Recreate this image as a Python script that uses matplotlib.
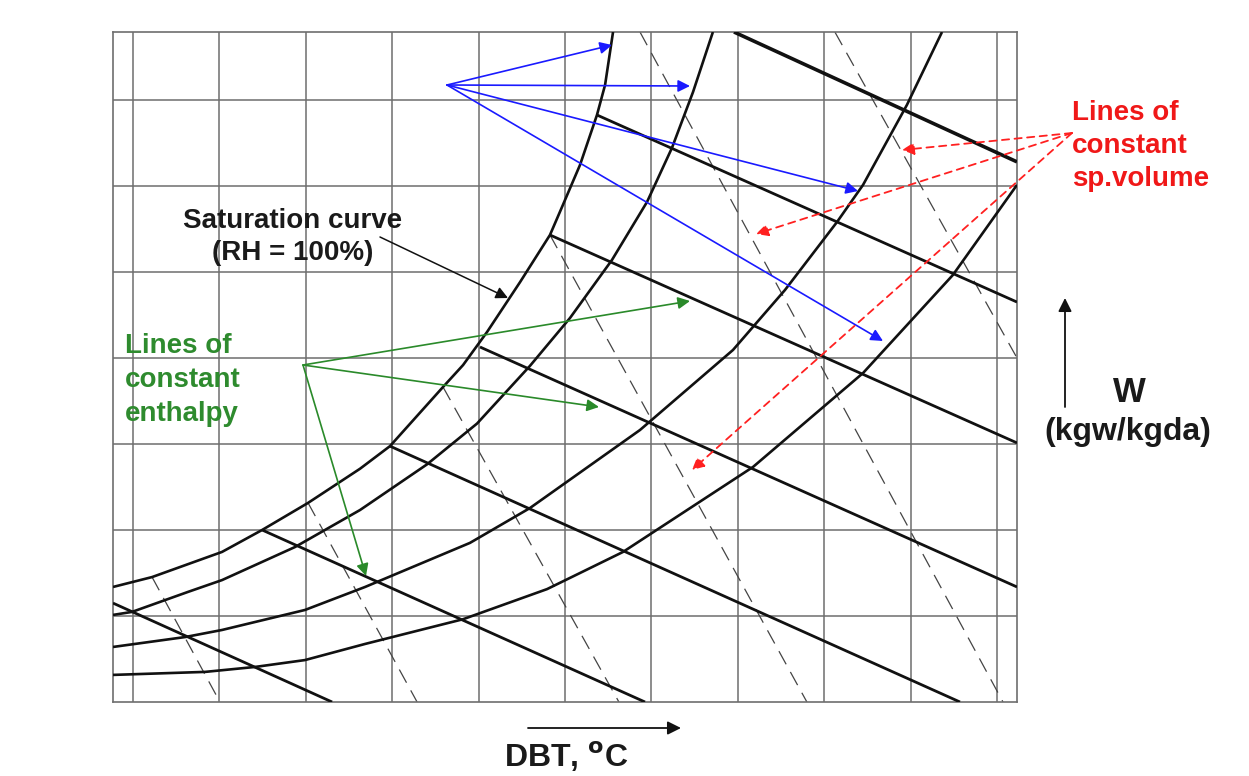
import numpy as np
import matplotlib
matplotlib.use("Agg")
import matplotlib.pyplot as plt

plt.rcParams['font.family'] = ['Liberation Sans', 'DejaVu Sans']

# grid: dry bulb temperature (deg C) and humidity ratio (g/kg)
dbt_grid = np.arange(0, 55, 5)
w_grid = np.arange(4, 32, 4)
x_lim = (-1.16, 51.16)
y_lim = (0, 31.16)

# saturation curve (RH = 100%) and lower RH curves
sat_t = [-1.16, 1.10, 5.15, 7.47, 10.13, 13.14, 14.87, 17.94, 19.10, 20.49,
         22.40, 24.13, 24.88, 25.87, 26.85, 27.32, 27.78]
sat_w = [5.35, 5.81, 6.98, 8.00, 9.26, 10.85, 11.90, 14.65, 15.67, 17.21,
         19.53, 21.72, 23.12, 24.98, 27.30, 28.70, 31.16]

rh2_t = [-1.16, -0.06, 3.18, 5.15, 9.38, 13.14, 17.01, 19.91, 22.97, 25.29,
         27.72, 29.75, 31.19, 32.41, 33.56]
rh2_w = [4.05, 4.19, 5.12, 5.67, 7.21, 8.93, 11.05, 12.95, 15.63, 17.86,
         20.56, 23.26, 25.77, 28.37, 31.16]

rh3_t = [-1.16, 3.01, 5.15, 9.95, 13.43, 19.50, 22.97, 29.34, 34.72, 37.73,
         40.74, 42.25, 44.79, 46.82]
rh3_w = [2.56, 3.02, 3.35, 4.28, 5.35, 7.40, 9.02, 12.65, 16.37, 19.16,
         22.32, 24.05, 27.77, 31.16]

rh4_t = [-1.16, 4.17, 7.06, 9.95, 13.43, 19.10, 23.96, 25.87, 28.36, 35.88,
         42.25, 47.45, 51.16]
rh4_w = [1.26, 1.40, 1.63, 1.95, 2.70, 3.85, 5.25, 6.00, 6.98, 10.93,
         15.30, 19.86, 24.05]

rh_curves = [(sat_t, sat_w), (rh2_t, rh2_w), (rh3_t, rh3_w), (rh4_t, rh4_w)]

# constant enthalpy lines: start / end points
h_t0 = [34.78, 26.85, 24.13, 20.08, 14.87, 7.47, -1.16]
h_w0 = [31.16, 27.30, 21.72, 16.51, 11.90, 8.00, 4.60]
h_t1 = [51.16, 51.16, 51.16, 51.16, 47.86, 29.63, 11.52]
h_w1 = [25.12, 18.60, 12.05, 5.35, 0.0, 0.0, 0.0]
h_lw = [2.6, 2.0, 2.0, 2.0, 2.0, 2.0, 2.0]

# constant specific volume lines: start / end points
v_t0 = [1.10, 10.13, 17.94, 24.13, 29.34, 40.62]
v_w0 = [5.81, 9.26, 14.65, 21.72, 31.16, 31.16]
v_t1 = [5.03, 16.44, 28.12, 39.00, 50.35, 51.16]
v_w1 = [0.0, 0.0, 0.0, 0.0, 0.0, 16.00]

fig = plt.figure(figsize=(12.49, 7.76), dpi=100)
ax = fig.add_axes([113 / 1249, 1 - 702 / 776, 904 / 1249, 670 / 776])

for t in dbt_grid:
    ax.axvline(t, color='#6e6e6e', lw=1.1, zorder=1)
for w in w_grid:
    ax.axhline(w, color='#6e6e6e', lw=1.1, zorder=1)

for t0, w0, t1, w1 in zip(v_t0, v_w0, v_t1, v_w1):
    ax.plot([t0, t1], [w0, w1], color='#444444', lw=0.9, dashes=(12, 7), zorder=2)

for t, w in rh_curves:
    ax.plot(t, w, color='#111111', lw=1.9, zorder=3, solid_capstyle='butt',
            solid_joinstyle='round')

for t0, w0, t1, w1, lw in zip(h_t0, h_w0, h_t1, h_w1, h_lw):
    ax.plot([t0, t1], [w0, w1], color='#111111', lw=lw, zorder=3, solid_capstyle='butt')

ax.set_xlim(*x_lim)
ax.set_ylim(*y_lim)
ax.set_xticks([])
ax.set_yticks([])
for s in ax.spines.values():
    s.set_color('#6e6e6e')
    s.set_linewidth(1.2)

H = 776


def arrow(x0, y0, x1, y1, color, ls='-', lw=1.2, ms=18):
    ax.annotate('', xy=(x1, H - y1), xycoords='figure pixels',
                xytext=(x0, H - y0), textcoords='figure pixels',
                arrowprops=dict(arrowstyle='-|>', color=color, lw=lw, ls=ls,
                                mutation_scale=ms, shrinkA=0, shrinkB=0),
                annotation_clip=False, zorder=5)


# blue arrows
for x1, y1 in [(612, 45), (690, 86), (858, 191), (883, 341)]:
    arrow(447, 85, x1, y1, '#1a1aff')

# green arrows
for x1, y1 in [(690, 301), (599, 407), (366, 576)]:
    arrow(303, 365, x1, y1, '#2a8a2a')

# red dashed arrows
for x1, y1 in [(902, 150), (756, 234), (692, 470)]:
    arrow(1072, 133, x1, y1, '#ff2020', ls=(0, (4, 3)), lw=1.3)

# saturation label arrow
arrow(380, 237, 508, 298, '#111111', lw=1.1)

# axis direction arrows
arrow(528, 728, 681, 728, '#111111', lw=1.3, ms=20)
arrow(1065, 407, 1065, 298, '#111111', lw=1.3, ms=20)

fig.text(293 / 1249, 1 - 237 / H, 'Saturation curve\n(RH = 100%)', ha='center', va='center',
         fontsize=20, fontweight='bold', color='#1a1a1a', linespacing=1.35, multialignment='center')
fig.text(125 / 1249, 1 - 380 / H, 'Lines of\nconstant\nenthalpy', ha='left', va='center',
         fontsize=20, fontweight='bold', color='#2e8b2e', linespacing=1.38)
fig.text(1072 / 1249, 1 - 146 / H, 'Lines of\nconstant\nsp.volume', ha='left', va='center',
         fontsize=20, fontweight='bold', color='#f01818', linespacing=1.33)
fig.text(1129 / 1249, 1 - 392 / H, 'W', ha='center', va='center',
         fontsize=25, fontweight='bold', color='#1a1a1a')
fig.text(1128 / 1249, 1 - 432 / H, '(kgw/kgda)', ha='center', va='center',
         fontsize=23, fontweight='bold', color='#1a1a1a')
fig.text(566 / 1249, 1 - 757 / H, r'DBT, $^{\mathbf{o}}$C', ha='center', va='center',
         fontsize=23, fontweight='bold', color='#1a1a1a')

fig.savefig('out.png', dpi=100, facecolor='white')
